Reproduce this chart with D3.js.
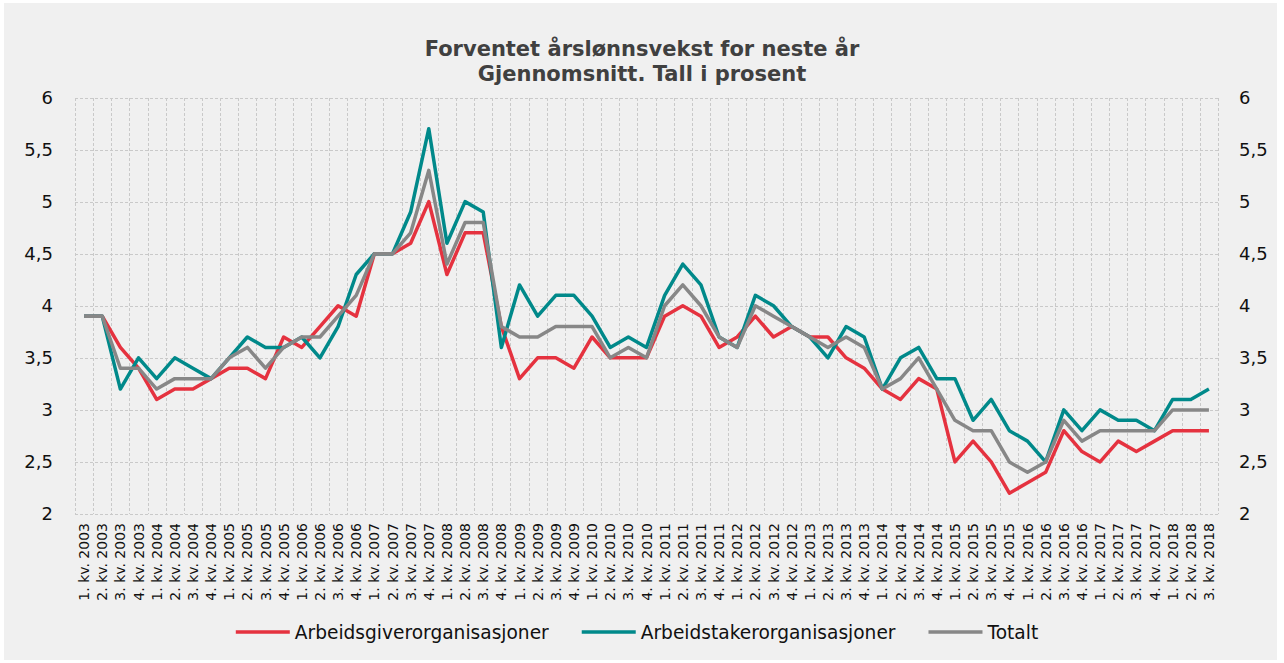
<!DOCTYPE html>
<html>
<head>
<meta charset="utf-8">
<script src="https://cdn.jsdelivr.net/npm/d3@7"></script>
<style>
  html, body { margin: 0; padding: 0; background: #ffffff; }
  svg { display: block; }
</style>
</head>
<body>
<svg id="chart" width="1284" height="663"></svg>
<script>
// kvartaler
const quarters = [
  "1. kv. 2003","2. kv. 2003","3. kv. 2003","4. kv. 2003",
  "1. kv. 2004","2. kv. 2004","3. kv. 2004","4. kv. 2004",
  "1. kv. 2005","2. kv. 2005","3. kv. 2005","4. kv. 2005",
  "1. kv. 2006","2. kv. 2006","3. kv. 2006","4. kv. 2006",
  "1. kv. 2007","2. kv. 2007","3. kv. 2007","4. kv. 2007",
  "1. kv. 2008","2. kv. 2008","3. kv. 2008","4. kv. 2008",
  "1. kv. 2009","2. kv. 2009","3. kv. 2009","4. kv. 2009",
  "1. kv. 2010","2. kv. 2010","3. kv. 2010","4. kv. 2010",
  "1. kv. 2011","2. kv. 2011","3. kv. 2011","4. kv. 2011",
  "1. kv. 2012","2. kv. 2012","3. kv. 2012","4. kv. 2012",
  "1. kv. 2013","2. kv. 2013","3. kv. 2013","4. kv. 2013",
  "1. kv. 2014","2. kv. 2014","3. kv. 2014","4. kv. 2014",
  "1. kv. 2015","2. kv. 2015","3. kv. 2015","4. kv. 2015",
  "1. kv. 2016","2. kv. 2016","3. kv. 2016","4. kv. 2016",
  "1. kv. 2017","2. kv. 2017","3. kv. 2017","4. kv. 2017",
  "1. kv. 2018","2. kv. 2018","3. kv. 2018"
];

const arbeidsgiver = [
  3.9,3.9,3.6,3.4, 3.1,3.2,3.2,3.3, 3.4,3.4,3.3,3.7, 3.6,3.8,4.0,3.9,
  4.5,4.5,4.6,5.0, 4.3,4.7,4.7,3.8, 3.3,3.5,3.5,3.4, 3.7,3.5,3.5,3.5,
  3.9,4.0,3.9,3.6, 3.7,3.9,3.7,3.8, 3.7,3.7,3.5,3.4, 3.2,3.1,3.3,3.2,
  2.5,2.7,2.5,2.2, 2.3,2.4,2.8,2.6, 2.5,2.7,2.6,2.7, 2.8,2.8,2.8
];
const arbeidstaker = [
  3.9,3.9,3.2,3.5, 3.3,3.5,3.4,3.3, 3.5,3.7,3.6,3.6, 3.7,3.5,3.8,4.3,
  4.5,4.5,4.9,5.7, 4.6,5.0,4.9,3.6, 4.2,3.9,4.1,4.1, 3.9,3.6,3.7,3.6,
  4.1,4.4,4.2,3.7, 3.6,4.1,4.0,3.8, 3.7,3.5,3.8,3.7, 3.2,3.5,3.6,3.3,
  3.3,2.9,3.1,2.8, 2.7,2.5,3.0,2.8, 3.0,2.9,2.9,2.8, 3.1,3.1,3.2
];
const totalt = [
  3.9,3.9,3.4,3.4, 3.2,3.3,3.3,3.3, 3.5,3.6,3.4,3.6, 3.7,3.7,3.9,4.1,
  4.5,4.5,4.7,5.3, 4.4,4.8,4.8,3.8, 3.7,3.7,3.8,3.8, 3.8,3.5,3.6,3.5,
  4.0,4.2,4.0,3.7, 3.6,4.0,3.9,3.8, 3.7,3.6,3.7,3.6, 3.2,3.3,3.5,3.2,
  2.9,2.8,2.8,2.5, 2.4,2.5,2.9,2.7, 2.8,2.8,2.8,2.8, 3.0,3.0,3.0
];

const seriesNames = ["Arbeidsgiverorganisasjoner", "Arbeidstakerorganisasjoner", "Totalt"];
const seriesColors = ["#e5323f", "#00898a", "#878787"];
const yTicks = [2, 2.5, 3, 3.5, 4, 4.5, 5, 5.5, 6];
const titleLines = ["Forventet årslønnsvekst for neste år", "Gjennomsnitt. Tall i prosent"];

const series = [arbeidsgiver, arbeidstaker, totalt].map((values, i) => ({
  name: seriesNames[i], color: seriesColors[i], values: values
}));

const margin = {left: 75, right: 1218, top: 97.5, bottom: 514};
const font = "'DejaVu Sans', Verdana, sans-serif";

const svg = d3.select("#chart");

svg.append("rect")
  .attr("x", 4).attr("y", 3)
  .attr("width", 1273).attr("height", 657)
  .attr("fill", "#f0f0f0");

const x = d3.scaleBand()
  .domain(quarters)
  .range([margin.left, margin.right])
  .paddingInner(0).paddingOuter(0);
const bw = x.bandwidth();

const y = d3.scaleLinear()
  .domain([2, 6])
  .range([margin.bottom, margin.top]);

const no = d3.formatLocale({decimal: ",", thousands: " ", grouping: [3], currency: ["", " kr"]});
const fmt = no.format("~g");

// grid
const grid = svg.append("g").attr("class", "grid")
  .attr("stroke", "#c9c9c9")
  .attr("stroke-width", 1)
  .attr("stroke-dasharray", "3 2")
  .attr("shape-rendering", "crispEdges");

grid.selectAll(".hline")
  .data(yTicks)
  .enter().append("line")
  .attr("class", "hline")
  .attr("x1", margin.left).attr("x2", margin.right)
  .attr("y1", d => Math.round(y(d)) + 0.5)
  .attr("y2", d => Math.round(y(d)) + 0.5);

const bounds = quarters.map(q => x(q)).concat([margin.right]);
grid.selectAll(".vline")
  .data(bounds)
  .enter().append("line")
  .attr("class", "vline")
  .attr("x1", d => Math.round(d) + 0.5).attr("x2", d => Math.round(d) + 0.5)
  .attr("y1", margin.top).attr("y2", margin.bottom);

// axes
const yLeft = svg.append("g")
  .attr("transform", `translate(${margin.left},0)`)
  .call(d3.axisLeft(y).tickValues(yTicks).tickSize(0).tickPadding(22).tickFormat(fmt));
const yRight = svg.append("g")
  .attr("transform", `translate(${margin.right},0)`)
  .call(d3.axisRight(y).tickValues(yTicks).tickSize(0).tickPadding(21).tickFormat(fmt));

[yLeft, yRight].forEach(g => {
  g.select(".domain").remove();
  g.selectAll("text")
    .style("font-family", font)
    .style("font-size", "18px")
    .attr("fill", "#111");
});

const xAxis = svg.append("g")
  .attr("transform", `translate(0,${margin.bottom})`)
  .call(d3.axisBottom(x).tickSize(0));
xAxis.select(".domain").remove();
xAxis.selectAll("text")
  .attr("transform", "rotate(-90)")
  .attr("x", -9)
  .attr("y", 0)
  .attr("dy", "0.36em")
  .style("text-anchor", "end")
  .style("font-family", font)
  .style("font-size", "14px")
  .attr("fill", "#111");

// lines
const line = d3.line()
  .x((d, i) => x(quarters[i]) + bw / 2)
  .y(d => y(d));

svg.append("g").attr("class", "series")
  .selectAll("path")
  .data(series)
  .enter().append("path")
  .attr("d", d => line(d.values))
  .attr("fill", "none")
  .attr("stroke", d => d.color)
  .attr("stroke-width", 3.5)
  .attr("stroke-linejoin", "round")
  .attr("stroke-linecap", "butt");

// title
svg.append("text")
  .attr("x", 642)
  .attr("text-anchor", "middle")
  .style("font-family", font)
  .style("font-size", "21px")
  .style("font-weight", "bold")
  .attr("fill", "#404040")
  .selectAll("tspan")
  .data(titleLines)
  .enter().append("tspan")
  .attr("x", 642)
  .attr("y", (d, i) => 56 + i * 24.5)
  .text(d => d);

// legend
const legend = svg.append("g").attr("class", "legend");
const lineLen = 54, textGap = 5, itemGap = 33, legY = 632;
const items = legend.selectAll(".item")
  .data(series)
  .enter().append("g")
  .attr("class", "item");
items.append("line")
  .attr("x1", 0).attr("x2", lineLen)
  .attr("y1", legY).attr("y2", legY)
  .attr("stroke", d => d.color)
  .attr("stroke-width", 3.5);
items.append("text")
  .attr("x", lineLen + textGap)
  .attr("y", legY)
  .attr("dy", "0.36em")
  .style("font-family", font)
  .style("font-size", "18.6px")
  .attr("fill", "#111")
  .text(d => d.name);

let widths = [];
items.select("text").each(function () { widths.push(this.getComputedTextLength()); });
const total = d3.sum(widths) + series.length * (lineLen + textGap) + (series.length - 1) * itemGap;
let cx = 637 - total / 2;
items.attr("transform", (d, i) => {
  const t = `translate(${cx},0)`;
  cx += lineLen + textGap + widths[i] + itemGap;
  return t;
});
</script>
</body>
</html>
